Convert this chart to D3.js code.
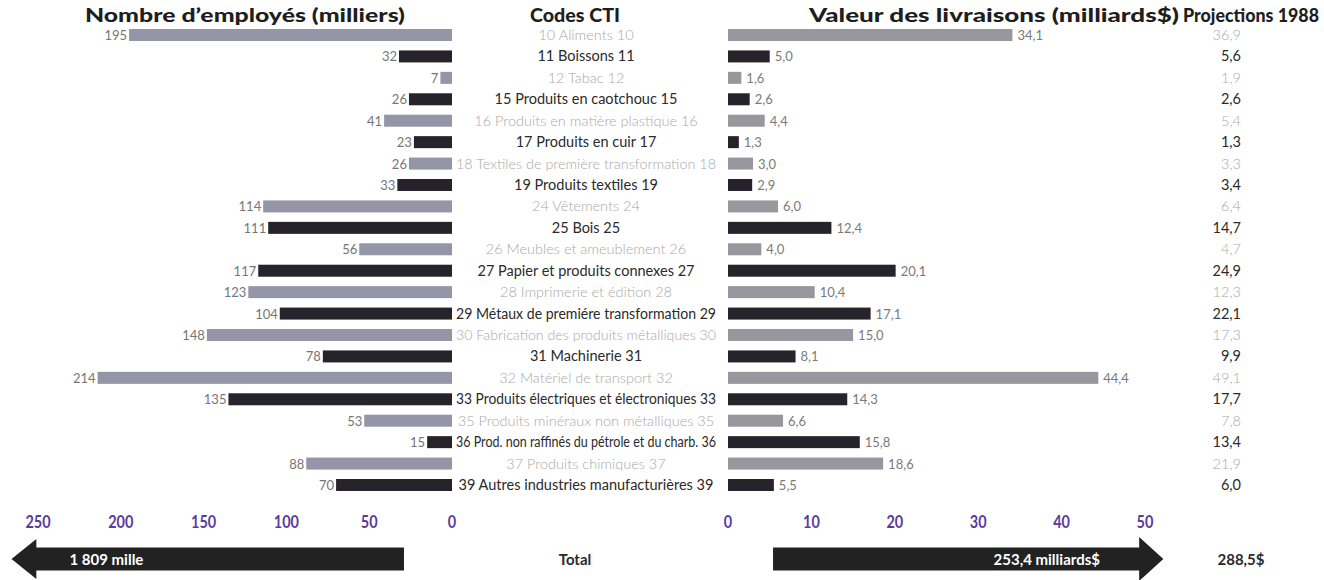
<!DOCTYPE html>
<html><head><meta charset="utf-8">
<script src="https://cdn.jsdelivr.net/npm/d3@7"></script>
<style>
html,body{margin:0;padding:0;background:#fff;}
svg{display:block;font-family:Lato,"Open Sans",sans-serif;}
</style></head>
<body>
<svg id="c" width="1324" height="580"></svg>
<script>
const codes = ["10","11","12","15","16","17","18","19","24","25","26","27","28","29","30","31","32","33","35","36","37","39"];
const names = ["Aliments","Boissons","Tabac","Produits en caotchouc","Produits en matière plastique","Produits en cuir","Textiles de première transformation","Produits textiles","Vêtements","Bois","Meubles et ameublement","Papier et produits connexes","Imprimerie et édition","Métaux de premiére transformation","Fabrication des produits métalliques","Machinerie","Matériel de transport","Produits électriques et électroniques","Produits minéraux non métalliques","Prod. non raffinés du pétrole et du charb.","Produits chimiques","Autres industries manufacturières"];
const employees = [195,32,7,26,41,23,26,33,114,111,56,117,123,104,148,78,214,135,53,15,88,70];
const shipments = [34.1,5.0,1.6,2.6,4.4,1.3,3.0,2.9,6.0,12.4,4.0,20.1,10.4,17.1,15.0,8.1,44.4,14.3,6.6,15.8,18.6,5.5];
const projections = [36.9,5.6,1.9,2.6,5.4,1.3,3.3,3.4,6.4,14.7,4.7,24.9,12.3,22.1,17.3,9.9,49.1,17.7,7.8,13.4,21.9,6.0];
const leftTicks = [250,200,150,100,50,0];
const rightTicks = [0,10,20,30,40,50];
const headers = ["Nombre d’employés (milliers)","Codes CTI","Valeur des livraisons (milliards$)","Projections 1988"];
const totalLabel = "Total";
const totalEmployees = "1 809 mille";
const totalShipments = "253,4 milliards$";
const totalProjection = "288,5$";

const svg = d3.select("#c");
const xL = d3.scaleLinear().domain([0,250]).range([452,38]);
const xR = d3.scaleLinear().domain([0,50]).range([728,1145]);
const y = d3.scalePoint().domain(codes).range([35,485]);
const fmt = v => d3.format(".1f")(v).replace(".", ",");
const barH = 12;
const DARK = "#26232a", GRAYL = "#9495a6", GRAYR = "#98979d";
const TXT_DARK = "#2a2a2a", TXT_LIGHT = "#a9a9a9";
const isDark = i => i % 2 === 1;

// headers (fit to the reference's wide geometric face)
const hx = [245, 575, 994, 1251];
const hw = [320, 90, 370, 136];
svg.selectAll("text.hdr").data(headers).join("text")
  .attr("class","hdr").attr("x",(d,i)=>hx[i]).attr("y",22)
  .attr("text-anchor","middle").attr("font-weight",900).attr("font-size",18)
  .attr("textLength",(d,i)=>hw[i]).attr("lengthAdjust","spacingAndGlyphs")
  .attr("fill","#1e1e1e").text(d=>d);

const rows = codes.map((c,i)=>({c,i,name:names[i],e:employees[i],s:shipments[i],p:projections[i]}));

// left bars
svg.selectAll("rect.lb").data(rows).join("rect")
  .attr("x",d=>xL(d.e)).attr("y",d=>y(d.c)-barH/2)
  .attr("width",d=>xL(0)-xL(d.e)).attr("height",barH)
  .attr("fill",d=>isDark(d.i)?DARK:GRAYL);
svg.selectAll("text.lv").data(rows).join("text")
  .attr("x",d=>xL(d.e)-2).attr("y",d=>y(d.c)+5)
  .attr("text-anchor","end").attr("font-size",13).attr("fill","#767676")
  .text(d=>d.e);

// center labels
svg.selectAll("text.cl").data(rows).join("text")
  .attr("x",586).attr("y",d=>y(d.c)+5)
  .attr("text-anchor","middle").attr("font-size",14.5)
  .attr("font-weight",d=>isDark(d.i)?400:300)
  .attr("fill",d=>isDark(d.i)?TXT_DARK:TXT_LIGHT)
  .text(d=>`${d.c} ${d.name} ${d.c}`)
  .each(function(){
    const w = this.getComputedTextLength();
    if (w > 260) d3.select(this).attr("textLength",260).attr("lengthAdjust","spacingAndGlyphs");
  });

// right bars
svg.selectAll("rect.rb").data(rows).join("rect")
  .attr("x",xR(0)).attr("y",d=>y(d.c)-barH/2)
  .attr("width",d=>xR(d.s)-xR(0)).attr("height",barH)
  .attr("fill",d=>isDark(d.i)?DARK:GRAYR);
svg.selectAll("text.rv").data(rows).join("text")
  .attr("x",d=>xR(d.s)+5).attr("y",d=>y(d.c)+5)
  .attr("font-size",13).attr("fill","#7a7a7a")
  .text(d=>fmt(d.s));

// projections
svg.selectAll("text.pv").data(rows).join("text")
  .attr("x",1241).attr("y",d=>y(d.c)+5)
  .attr("text-anchor","end").attr("font-size",14.5)
  .attr("font-weight",d=>isDark(d.i)?400:300)
  .attr("fill",d=>isDark(d.i)?TXT_DARK:TXT_LIGHT)
  .text(d=>fmt(d.p));

// axes tick labels
const PURPLE = "#5a3a9c";
svg.selectAll("text.lt").data(leftTicks).join("text")
  .attr("x",d=>xL(d)).attr("y",528).attr("text-anchor","middle")
  .attr("font-weight",700).attr("font-size",17).attr("fill",PURPLE)
  .attr("transform",d=>`translate(${xL(d)},0) scale(0.85,1) translate(${-xL(d)},0)`)
  .text(d=>d);
svg.selectAll("text.rt").data(rightTicks).join("text")
  .attr("x",d=>xR(d)).attr("y",528).attr("text-anchor","middle")
  .attr("font-weight",700).attr("font-size",17).attr("fill",PURPLE)
  .attr("transform",d=>`translate(${xR(d)},0) scale(0.85,1) translate(${-xR(d)},0)`)
  .text(d=>d);

// total arrows
const ay = 559, bh = 11.5, hh = 20;
const lTip = xL(266), lNeck = xL(251), lEnd = xL(29);
svg.append("path").attr("fill","#222")
  .attr("d",`M${lTip},${ay} L${lNeck},${ay-hh} L${lNeck},${ay-bh} L${lEnd},${ay-bh} L${lEnd},${ay+bh} L${lNeck},${ay+bh} L${lNeck},${ay+hh} Z`);
svg.append("text").attr("x",xL(231)).attr("y",ay+6).attr("fill","#fff")
  .attr("font-weight",700).attr("font-size",15).text(totalEmployees);

const rStart = xR(5.4), rNeck = xR(49.3), rTip = xR(52.2);
svg.append("path").attr("fill","#222")
  .attr("d",`M${rTip},${ay} L${rNeck},${ay-hh-2} L${rNeck},${ay-bh} L${rStart},${ay-bh} L${rStart},${ay+bh} L${rNeck},${ay+bh} L${rNeck},${ay+hh+2} Z`);
svg.append("text").attr("x",xR(44.6)).attr("y",ay+6).attr("fill","#fff")
  .attr("text-anchor","end").attr("font-weight",700).attr("font-size",15).text(totalShipments);

svg.append("text").attr("x",575).attr("y",ay+6).attr("text-anchor","middle")
  .attr("font-weight",700).attr("font-size",15).attr("fill","#2a2a2a").text(totalLabel);
svg.append("text").attr("x",1241).attr("y",ay+6).attr("text-anchor","middle")
  .attr("font-weight",700).attr("font-size",15).attr("fill","#2a2a2a").text(totalProjection);
</script>
</body></html>
